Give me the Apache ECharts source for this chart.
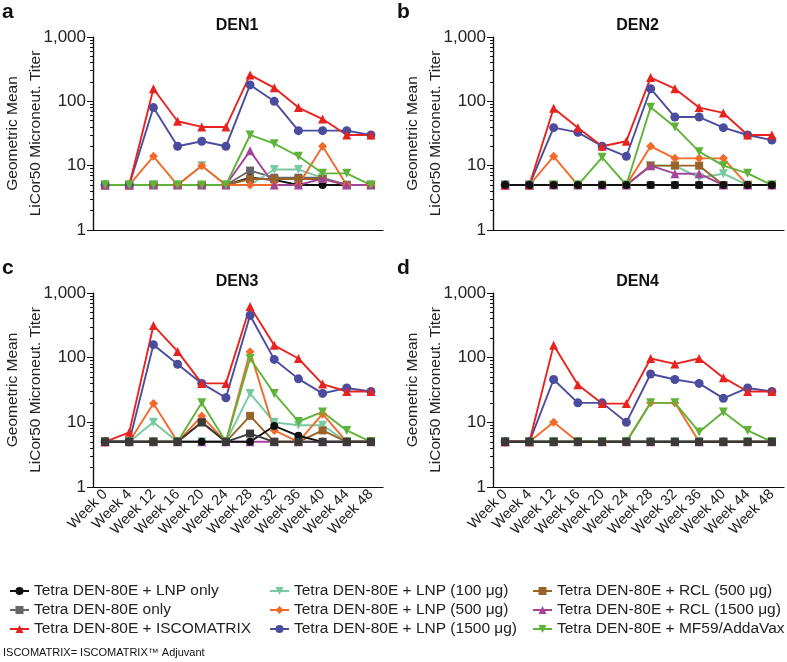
<!DOCTYPE html>
<html><head><meta charset="utf-8">
<script src="https://cdn.jsdelivr.net/npm/echarts@6/dist/echarts.min.js"></script>
<style>html,body{margin:0;padding:0;background:#fff}#c{width:787px;height:662px}</style>
</head><body><div id="c"></div>
<script>
const weeks = ['Week 0','Week 4','Week 12','Week 16','Week 20','Week 24','Week 28','Week 32','Week 36','Week 40','Week 44','Week 48'];
const seriesNames = ['Tetra DEN-80E + LNP only','Tetra DEN-80E only','Tetra DEN-80E + ISCOMATRIX',
  'Tetra DEN-80E + LNP (100 \u03bcg)','Tetra DEN-80E + LNP (500 \u03bcg)','Tetra DEN-80E + LNP (1500 \u03bcg)',
  'Tetra DEN-80E + RCL (500 \u03bcg)','Tetra DEN-80E + RCL (1500 \u03bcg)','Tetra DEN-80E + MF59/AddaVax'];
const panelTitles = ['DEN1','DEN2','DEN3','DEN4'];
const panelLetters = ['a','b','c','d'];
const minorTickValues = [2,3,4,5,6,7,8,9,20,30,40,50,60,70,80,90,200,300,400,500,600,700,800,900];

// DEN1
const den1_lnpOnly = [5,5,5,5,5,5,6.5,6,5,5,5,5];
const den1_only    = [5,5,5,5,5,5,8.4,6.5,6.5,6.5,5,5];
const den1_isco    = [5,5,157,49,40,40,257,162,80,53,30,30];
const den1_lnp100  = [5,5,5,5,10,5,5,8.7,8.7,6.5,5,5];
const den1_lnp500  = [5,5,14,5,10,5,5,5,5,20,5,5];
const den1_lnp1500 = [5,5,80,20,24,20,180,100,35,35,35,30];
const den1_rcl500  = [5,5,5,5,5,5,6.2,6.2,6.2,6.2,5,5];
const den1_rcl1500 = [5,5,5,5,5,5,17,5,5,6.3,5,5];
const den1_mf59    = [5,5,5,5,5,5,30,22,14,7.6,7.6,5];
// DEN2
const den2_lnpOnly = [5,5,5,5,5,5,5,5,5,5,5,5];
const den2_only    = [5,5,5,5,5,5,5,5,5,5,5,5];
const den2_isco    = [5,5,78,39,20,24,234,157,80,66,30,30];
const den2_lnp100  = [5,5,5,5,5,5,10,10,6.5,7.5,5,5];
const den2_lnp500  = [5,5,14,5,5,5,20,13,13,13,5,5];
const den2_lnp1500 = [5,5,39,33,20,14,157,57,57,39,30,25];
const den2_rcl500  = [5,5,5,5,5,5,10,10,10,5,5,5];
const den2_rcl1500 = [5,5,5,5,5,5,10,7.5,7.5,5,5,5];
const den2_mf59    = [5,5,5,5,13.5,5,81,40,16.5,10,7.6,5];
// DEN3
const den3_lnpOnly = [5,5,5,5,5,5,5,8.8,6.2,5,5,5];
const den3_only    = [5,5,5,5,10,5,6.7,5,5,5,5,5];
const den3_isco    = [5,7,315,125,40,40,617,155,97,39,30,30];
const den3_lnp100  = [5,5,10,5,5,5,28,10,9,9,5,5];
const den3_lnp500  = [5,5,19.5,5,12.5,5,124,7.5,5,13.5,5,5];
const den3_lnp1500 = [5,5,159,79,40,24,450,94,47,28,34,30];
const den3_rcl500  = [5,5,5,5,10,5,12.6,5,5,7.5,5,5];
const den3_rcl1500 = [5,5,5,5,5,5,5,5,5,5,5,5];
const den3_mf59    = [5,5,5,5,20,5,97,28,10.3,14.5,7.5,5];
// DEN4
const den4_lnpOnly = [5,5,5,5,5,5,5,5,5,5,5,5];
const den4_only    = [5,5,5,5,5,5,5,5,5,5,5,5];
const den4_isco    = [5,5,155,38,19.5,19.5,97,80,97,49,30,30];
const den4_lnp100  = [5,5,5,5,5,5,5,5,5,5,5,5];
const den4_lnp500  = [5,5,10,5,5,5,20,20,5,5,5,5];
const den4_lnp1500 = [5,5,46,20,20,10,56,46,40,23.5,34,30];
const den4_rcl500  = [5,5,5,5,5,5,5,5,5,5,5,5];
const den4_rcl1500 = [5,5,5,5,5,5,5,5,5,5,5,5];
const den4_mf59    = [5,5,5,5,5,5,20,20,7.1,14.5,7.5,5];

const panelData = [
  [den1_lnpOnly,den1_only,den1_isco,den1_lnp100,den1_lnp500,den1_lnp1500,den1_rcl500,den1_rcl1500,den1_mf59],
  [den2_lnpOnly,den2_only,den2_isco,den2_lnp100,den2_lnp500,den2_lnp1500,den2_rcl500,den2_rcl1500,den2_mf59],
  [den3_lnpOnly,den3_only,den3_isco,den3_lnp100,den3_lnp500,den3_lnp1500,den3_rcl500,den3_rcl1500,den3_mf59],
  [den4_lnpOnly,den4_only,den4_isco,den4_lnp100,den4_lnp500,den4_lnp1500,den4_rcl500,den4_rcl1500,den4_mf59]
];

const FONT = '"Liberation Sans", Arial, Helvetica, sans-serif';
const TXT = '#222';
const styles = [
  {color:'#111111', symbol:'circle', size:8, rot:0},
  {color:'#666666', symbol:'rect', size:8, rot:0},
  {color:'#e8231f', symbol:'triangle', size:9, rot:0},
  {color:'#78c8a0', symbol:'triangle', size:9, rot:180},
  {color:'#f26a2b', symbol:'diamond', size:9, rot:0},
  {color:'#4b4c9e', symbol:'circle', size:9, rot:0},
  {color:'#976329', symbol:'rect', size:8, rot:0},
  {color:'#a3449c', symbol:'triangle', size:9, rot:0},
  {color:'#5fb338', symbol:'triangle', size:9, rot:180}
];
const darkGray = '#3a3a3a';
const drawOrders = [
  [0,1,3,6,4,5,2,7,8],
  [1,3,6,7,4,8,5,2,0],
  [7,3,4,8,6,5,2,0,1],
  [7,6,3,4,8,5,2,0,1]
];
const grids = [
  {left:93, top:37, width:290, height:193},
  {left:493, top:37, width:291, height:193},
  {left:93, top:293, width:290, height:194},
  {left:493, top:293, width:291, height:194}
];

const option = {
  animation:false,
  backgroundColor:'#fff',
  grid: grids.map(g => Object.assign({outerBoundsMode:'none', containLabel:false}, g)),
  xAxis: [], yAxis: [], series: [],
  legend: [],
  graphic: []
};

grids.forEach((g, p) => {
  option.xAxis.push({
    type:'category', gridIndex:p, data:weeks, boundaryGap:true,
    axisLine:{onZero:false, lineStyle:{color:'#111', width:1.2}},
    axisTick:{alignWithLabel:true, length:5, lineStyle:{color:'#111', width:1}},
    axisLabel:{show: p >= 2, rotate:45, margin:5, fontSize:14.5, color:TXT, fontFamily:FONT, interval:0},
    splitLine:{show:false}
  });
  option.yAxis.push({
    type:'log', logBase:10, gridIndex:p, min:1, max:1000, position:'left',
    axisLine:{show:true, lineStyle:{color:'#111', width:1.2}},
    axisTick:{show:true, length:3, customValues:minorTickValues, lineStyle:{color:'#111', width:1}},
    axisLabel:{show:false}, splitLine:{show:false}, minorTick:{show:false}
  });
  option.yAxis.push({
    type:'log', logBase:10, gridIndex:p, min:1, max:1000, position:'left',
    name:'Geometric Mean\nLiCor50 Microneut. Titer', nameLocation:'middle', nameGap:46,
    nameMoveOverlap:false,
    nameTextStyle:{fontSize:15.5, lineHeight:23, color:TXT, fontFamily:FONT},
    axisLine:{show:true, lineStyle:{color:'#111', width:1.2}},
    axisTick:{show:true, length:6, lineStyle:{color:'#111', width:1}},
    axisLabel:{margin:7, fontSize:17, color:TXT, fontFamily:FONT,
      formatter: v => (v >= 1000 ? '1,000' : String(v))},
    splitLine:{show:false}
  });
  drawOrders[p].forEach(si => {
    const st = styles[si];
    const col = (si === 1 && p >= 2) ? darkGray : st.color;
    option.series.push({
      type:'line', name:seriesNames[si], xAxisIndex:p, yAxisIndex:2*p+1,
      data:panelData[p][si], symbol:st.symbol, symbolSize:st.size, symbolRotate:st.rot,
      showSymbol:true, lineStyle:{color:col, width:1.9}, itemStyle:{color:col},
      emphasis:{disabled:true}
    });
  });
  option.graphic.push({
    type:'text', x: g.left + g.width/2 - 1, y: g.top - 11,
    style:{text:panelTitles[p], font:'bold 16px ' + FONT, fill:'#111', textAlign:'center', textVerticalAlign:'middle'}
  });
  option.graphic.push({
    type:'text', x: g.left < 200 ? 2 : 397, y: g.top - 25,
    style:{text:panelLetters[p], font:'bold 21px ' + FONT, fill:'#111', textAlign:'left', textVerticalAlign:'middle'}
  });
});

const legendCols = [[0,1,2],[3,4,5],[6,7,8]];
const legendLefts = [4, 264, 527];
legendCols.forEach((col, i) => {
  option.legend.push({
    data: col.map(k => seriesNames[k]), orient:'vertical', left:legendLefts[i], top:578,
    itemWidth:19, itemHeight:10, itemGap:3, selectedMode:false,
    textStyle:{fontSize:15.5, lineHeight:16, color:TXT, fontFamily:FONT}
  });
});

option.graphic.push({
  type:'text', x:3, y:653,
  style:{text:'ISCOMATRIX= ISCOMATRIX\u2122 Adjuvant', font:'11px ' + FONT, fill:'#111', textAlign:'left', textVerticalAlign:'middle'}
});

const chart = echarts.init(document.getElementById('c'), null, {renderer:'canvas'});
chart.setOption(option);
</script>
</body></html>
